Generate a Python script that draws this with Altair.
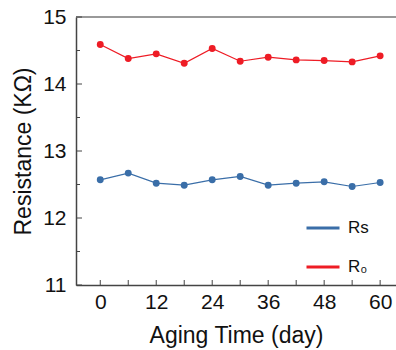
import altair as alt
import pandas as pd

days = [0, 6, 12, 18, 24, 30, 36, 42, 48, 54, 60]
r0_values = [14.59, 14.38, 14.45, 14.31, 14.53, 14.34, 14.40, 14.36, 14.35, 14.33, 14.42]
rs_values = [12.57, 12.67, 12.52, 12.49, 12.57, 12.62, 12.49, 12.52, 12.54, 12.47, 12.53]
series_names = ["Rs", "R₀"]
series_colors = ["#3a6ea8", "#ee1c25"]

x_tick_labels = [0, 12, 24, 36, 48, 60]
x_ticks = [0, 6, 12, 18, 24, 30, 36, 42, 48, 54, 60]
y_major = [11, 12, 13, 14, 15]
y_minor = [11.5, 12.5, 13.5, 14.5]

W, H = 320, 268
FONT = "Liberation Sans"

df = pd.DataFrame(
    {"day": days * 2,
     "value": rs_values + r0_values,
     "series": [series_names[0]] * len(days) + [series_names[1]] * len(days)}
)

xs = alt.Scale(domain=[-5.2, 63.4], nice=False, zero=False)
ys = alt.Scale(domain=[11, 15], nice=False, zero=False)
color = alt.Color(
    "series:N",
    scale=alt.Scale(domain=series_names, range=series_colors),
    legend=alt.Legend(
        title=None, orient="none", legendX=229, legendY=193,
        symbolType="stroke", symbolSize=1089, symbolStrokeWidth=3,
        labelFontSize=17, labelFont=FONT, labelColor="#111",
        rowPadding=13, labelOffset=7, padding=0,
    ),
)

base = alt.Chart(df)
lines = base.mark_line(strokeWidth=1.2).encode(
    x=alt.X("day:Q", scale=xs,
            axis=alt.Axis(values=x_tick_labels, title="Aging Time (day)", ticks=False,
                          grid=False, labelPadding=6, titlePadding=12, format="d")),
    y=alt.Y("value:Q", scale=ys,
            axis=alt.Axis(values=y_major, title="Resistance (KΩ)", ticks=False,
                          grid=False, labelPadding=10, titlePadding=7, format="d")),
    color=color,
)
points = base.mark_circle(size=48, opacity=1).encode(
    x=alt.X("day:Q", scale=xs), y=alt.Y("value:Q", scale=ys),
    color=alt.Color("series:N", scale=alt.Scale(domain=series_names, range=series_colors), legend=None),
)

xt = alt.Chart(pd.DataFrame({"t": x_ticks})).mark_rule(color="#444", strokeWidth=1).encode(
    x=alt.X("t:Q", scale=xs), y=alt.value(H), y2=alt.value(H - 5))
ytmaj = alt.Chart(pd.DataFrame({"t": y_major})).mark_rule(color="#444", strokeWidth=1).encode(
    y=alt.Y("t:Q", scale=ys), x=alt.value(0), x2=alt.value(6))
ytmin = alt.Chart(pd.DataFrame({"t": y_minor})).mark_rule(color="#444", strokeWidth=1).encode(
    y=alt.Y("t:Q", scale=ys), x=alt.value(0), x2=alt.value(4))
top = alt.Chart(pd.DataFrame({"t": [15]})).mark_rule(color="#777", strokeWidth=1.5).encode(
    y=alt.Y("t:Q", scale=ys), x=alt.value(0), x2=alt.value(W))

chart = alt.layer(top, xt, ytmaj, ytmin, lines, points).properties(
    width=W, height=H,
    autosize=alt.AutoSizeParams(type="none"),
    padding={"left": 76, "top": 17, "right": 0, "bottom": 65},
).configure_view(stroke=None).configure_axis(
    domainColor="#444", domainWidth=1.5,
    labelFont=FONT, labelFontSize=21, labelColor="#111",
    titleFont=FONT, titleFontSize=23, titleFontWeight="normal", titleColor="#111",
)

chart.save("out.html", embed_options={"renderer": "svg", "actions": False})
